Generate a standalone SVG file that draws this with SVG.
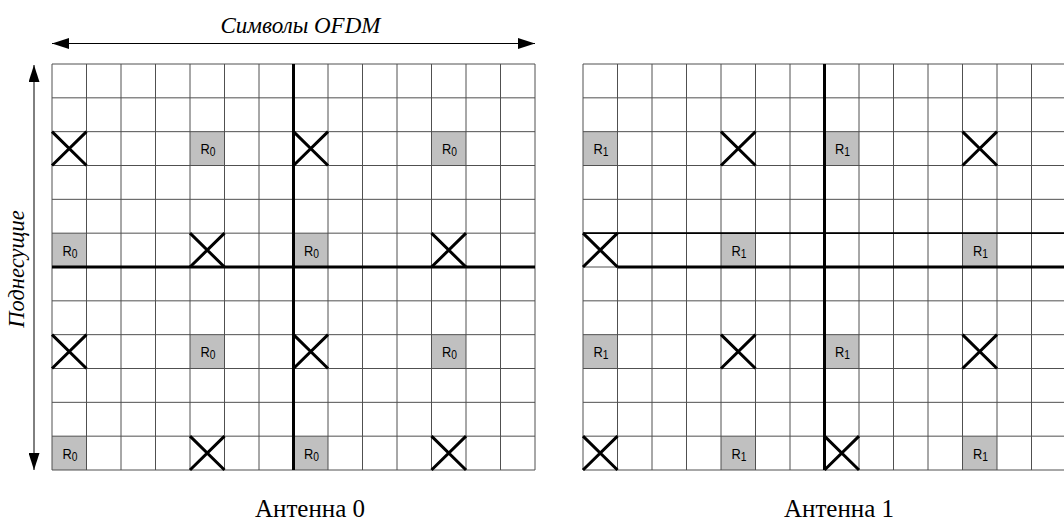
<svg xmlns="http://www.w3.org/2000/svg" width="1064" height="522" viewBox="0 0 1064 522">
<style>
.grid{fill:none;stroke:#505050;stroke-width:1}
.thick{fill:none;stroke:#000;stroke-width:3}
.mid{fill:none;stroke:#000;stroke-width:1.6}
.cell{fill:#c0c0c0}
.xm{fill:none;stroke:#000;stroke-width:3}
.r{font-family:'Liberation Sans',Arial,sans-serif;font-size:15px;fill:#000}
.sub{font-size:12px}
.ttl{font-family:'Liberation Serif','DejaVu Serif',serif;font-style:italic;fill:#000}
.lbl{font-family:'Liberation Serif','DejaVu Serif',serif;font-size:25px;fill:#000}
.axis{stroke:#000;stroke-width:1;fill:none}
</style>
<defs>
<path id="x" class="xm" d="M0 0L34.5 33.83M34.5 0L0 33.83"/>
<marker id="ah" viewBox="0 0 17 11" refX="17" refY="5.5" markerWidth="17" markerHeight="11" markerUnits="userSpaceOnUse" orient="auto-start-reverse"><path d="M0 0L17 5.5L0 11Z" fill="#000"/></marker>
</defs>
<rect width="1064" height="522" fill="#fff"/>

<g id="connectors">
<line class="axis" x1="52" y1="43.5" x2="535" y2="43.5" marker-start="url(#ah)" marker-end="url(#ah)"/>
<line class="axis" x1="34" y1="65" x2="34" y2="470" marker-start="url(#ah)" marker-end="url(#ah)"/>
</g>

<g id="axis-labels">
<text class="ttl" font-family="Liberation Serif, DejaVu Serif, serif" font-size="23" x="300.5" y="32.5" text-anchor="middle">Символы OFDM</text>
<text class="ttl" font-family="Liberation Serif, DejaVu Serif, serif" font-size="22.5" transform="translate(24 269) rotate(-90)" text-anchor="middle">Поднесущие</text>
</g>

<g id="antenna0">
<g id="a0-cells">
<rect class="cell" x="190" y="131.67" width="34.5" height="33.83"/>
<rect class="cell" x="431.5" y="131.67" width="34.5" height="33.83"/>
<rect class="cell" x="52" y="233.17" width="34.5" height="33.83"/>
<rect class="cell" x="293.5" y="233.17" width="34.5" height="33.83"/>
<rect class="cell" x="190" y="334.67" width="34.5" height="33.83"/>
<rect class="cell" x="431.5" y="334.67" width="34.5" height="33.83"/>
<rect class="cell" x="52" y="436.17" width="34.5" height="33.83"/>
<rect class="cell" x="293.5" y="436.17" width="34.5" height="33.83"/>
</g>
<path class="grid" d="M52 64V470M86.5 64V470M121 64V470M155.5 64V470M190 64V470M224.5 64V470M259 64V470M293.5 64V470M328 64V470M362.5 64V470M397 64V470M431.5 64V470M466 64V470M500.5 64V470M535 64V470M52 64H535M52 97.83H535M52 131.67H535M52 165.5H535M52 199.33H535M52 233.17H535M52 267H535M52 300.83H535M52 334.67H535M52 368.5H535M52 402.33H535M52 436.17H535M52 470H535"/>
<path class="thick" d="M293.5 64V470M52 267H535"/>
<g id="a0-labels">
<text class="r" x="200.5" y="154.2" textLength="15" lengthAdjust="spacingAndGlyphs">R<tspan class="sub" dy="2">0</tspan></text>
<text class="r" x="442" y="154.2" textLength="15" lengthAdjust="spacingAndGlyphs">R<tspan class="sub" dy="2">0</tspan></text>
<text class="r" x="62.5" y="255.7" textLength="15" lengthAdjust="spacingAndGlyphs">R<tspan class="sub" dy="2">0</tspan></text>
<text class="r" x="304" y="255.7" textLength="15" lengthAdjust="spacingAndGlyphs">R<tspan class="sub" dy="2">0</tspan></text>
<text class="r" x="200.5" y="357.2" textLength="15" lengthAdjust="spacingAndGlyphs">R<tspan class="sub" dy="2">0</tspan></text>
<text class="r" x="442" y="357.2" textLength="15" lengthAdjust="spacingAndGlyphs">R<tspan class="sub" dy="2">0</tspan></text>
<text class="r" x="62.5" y="458.7" textLength="15" lengthAdjust="spacingAndGlyphs">R<tspan class="sub" dy="2">0</tspan></text>
<text class="r" x="304" y="458.7" textLength="15" lengthAdjust="spacingAndGlyphs">R<tspan class="sub" dy="2">0</tspan></text>
</g>
<g id="a0-crosses">
<use href="#x" x="52" y="131.67"/>
<use href="#x" x="293.5" y="131.67"/>
<use href="#x" x="190" y="233.17"/>
<use href="#x" x="431.5" y="233.17"/>
<use href="#x" x="52" y="334.67"/>
<use href="#x" x="293.5" y="334.67"/>
<use href="#x" x="190" y="436.17"/>
<use href="#x" x="431.5" y="436.17"/>
</g>
<text class="lbl" font-family="Liberation Serif, DejaVu Serif, serif" x="310" y="517" text-anchor="middle">Антенна 0</text>
</g>

<g id="antenna1">
<g id="a1-cells">
<rect class="cell" x="583" y="131.67" width="34.5" height="33.83"/>
<rect class="cell" x="824.5" y="131.67" width="34.5" height="33.83"/>
<rect class="cell" x="721" y="233.17" width="34.5" height="33.83"/>
<rect class="cell" x="962.5" y="233.17" width="34.5" height="33.83"/>
<rect class="cell" x="583" y="334.67" width="34.5" height="33.83"/>
<rect class="cell" x="824.5" y="334.67" width="34.5" height="33.83"/>
<rect class="cell" x="721" y="436.17" width="34.5" height="33.83"/>
<rect class="cell" x="962.5" y="436.17" width="34.5" height="33.83"/>
</g>
<path class="grid" d="M583 64V470M617.5 64V470M652 64V470M686.5 64V470M721 64V470M755.5 64V470M790 64V470M824.5 64V470M859 64V470M893.5 64V470M928 64V470M962.5 64V470M997 64V470M1031.5 64V470M583 64H1064M583 97.83H1064M583 131.67H1064M583 165.5H1064M583 199.33H1064M583 233.17H1064M583 267H1064M583 300.83H1064M583 334.67H1064M583 368.5H1064M583 402.33H1064M583 436.17H1064M583 470H1064"/>
<path class="mid" d="M583 233.17H1064"/>
<path class="thick" d="M824.5 64V470M617.5 267H1064"/>
<g id="a1-labels">
<text class="r" x="593.5" y="154.2" textLength="15" lengthAdjust="spacingAndGlyphs">R<tspan class="sub" dy="2">1</tspan></text>
<text class="r" x="835" y="154.2" textLength="15" lengthAdjust="spacingAndGlyphs">R<tspan class="sub" dy="2">1</tspan></text>
<text class="r" x="731.5" y="255.7" textLength="15" lengthAdjust="spacingAndGlyphs">R<tspan class="sub" dy="2">1</tspan></text>
<text class="r" x="973" y="255.7" textLength="15" lengthAdjust="spacingAndGlyphs">R<tspan class="sub" dy="2">1</tspan></text>
<text class="r" x="593.5" y="357.2" textLength="15" lengthAdjust="spacingAndGlyphs">R<tspan class="sub" dy="2">1</tspan></text>
<text class="r" x="835" y="357.2" textLength="15" lengthAdjust="spacingAndGlyphs">R<tspan class="sub" dy="2">1</tspan></text>
<text class="r" x="731.5" y="458.7" textLength="15" lengthAdjust="spacingAndGlyphs">R<tspan class="sub" dy="2">1</tspan></text>
<text class="r" x="973" y="458.7" textLength="15" lengthAdjust="spacingAndGlyphs">R<tspan class="sub" dy="2">1</tspan></text>
</g>
<g id="a1-crosses">
<use href="#x" x="721" y="131.67"/>
<use href="#x" x="962.5" y="131.67"/>
<use href="#x" x="583" y="233.17"/>
<use href="#x" x="721" y="334.67"/>
<use href="#x" x="962.5" y="334.67"/>
<use href="#x" x="583" y="436.17"/>
<use href="#x" x="824.5" y="436.17"/>
</g>
<text class="lbl" font-family="Liberation Serif, DejaVu Serif, serif" x="839" y="517" text-anchor="middle">Антенна 1</text>
</g>
</svg>
